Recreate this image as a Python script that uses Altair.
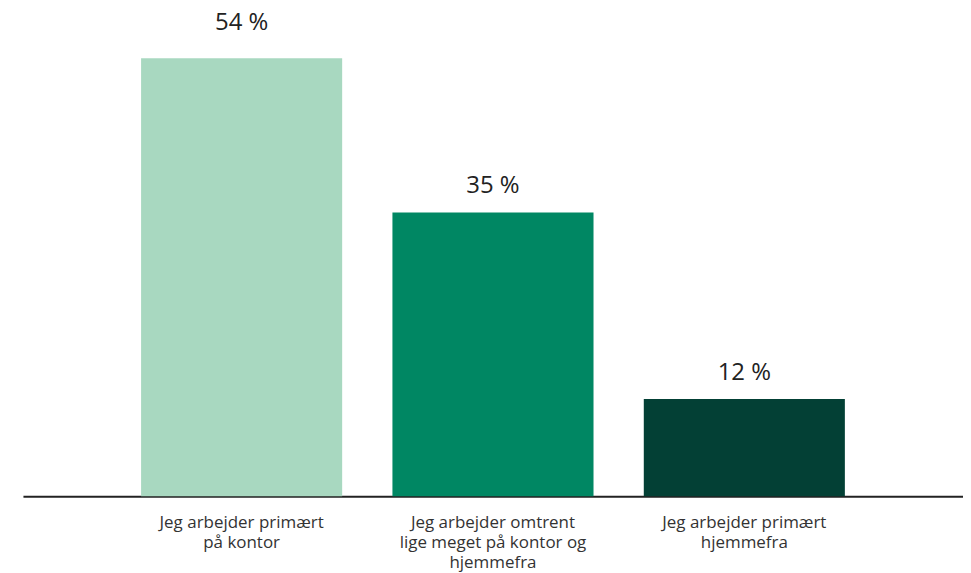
import altair as alt
import pandas as pd

categories = [
    "Jeg arbejder primært|på kontor",
    "Jeg arbejder omtrent|lige meget på kontor og|hjemmefra",
    "Jeg arbejder primært|hjemmefra",
]
values = [54, 35, 12]
labels = ["54 %", "35 %", "12 %"]
colors = ["#a8d8c0", "#008763", "#034035"]

df = pd.DataFrame({"cat": categories, "val": values, "lab": labels})

FONT = "Open Sans"

x = alt.X(
    "cat:N",
    sort=categories,
    title=None,
    scale=alt.Scale(paddingInner=0.2, paddingOuter=0.47),
    axis=alt.Axis(
        labelExpr="split(datum.label, '|')",
        labelAngle=0,
        labelFontSize=17,
        labelFont=FONT,
        labelColor="#333333",
        labelLineHeight=20,
        labelPadding=18,
        labelLimit=300,
        ticks=False,
        domainColor="#222222",
        domainWidth=2,
        grid=False,
    ),
)
y = alt.Y("val:Q", scale=alt.Scale(domain=[0, 59.1]), axis=None)

base = alt.Chart(df)

bars = base.mark_bar().encode(
    x=x,
    y=y,
    color=alt.Color("cat:N", sort=categories,
                    scale=alt.Scale(domain=categories, range=colors), legend=None),
)
text_max = base.transform_joinaggregate(m="max(val)").transform_filter(
    "datum.val == datum.m"
).mark_text(
    dy=-28, baseline="alphabetic", fontSize=24, font=FONT, color="#222222"
).encode(x=x, y=y, text="lab:N")
text_rest = base.transform_joinaggregate(m="max(val)").transform_filter(
    "datum.val < datum.m"
).mark_text(
    dy=-19, baseline="alphabetic", fontSize=24, font=FONT, color="#222222"
).encode(x=x, y=y, text="lab:N")

chart = (
    alt.layer(bars, text_max, text_rest)
    .properties(
        width=943,
        height=481,
        autosize=alt.AutoSizeParams(type="none"),
        padding={"left": 15, "top": 8, "right": 0, "bottom": 75},
    )
    .configure(background="white")
    .configure_view(stroke=None, strokeWidth=0)
)

chart.save("out.html", embed_options={"renderer": "svg", "actions": False})
